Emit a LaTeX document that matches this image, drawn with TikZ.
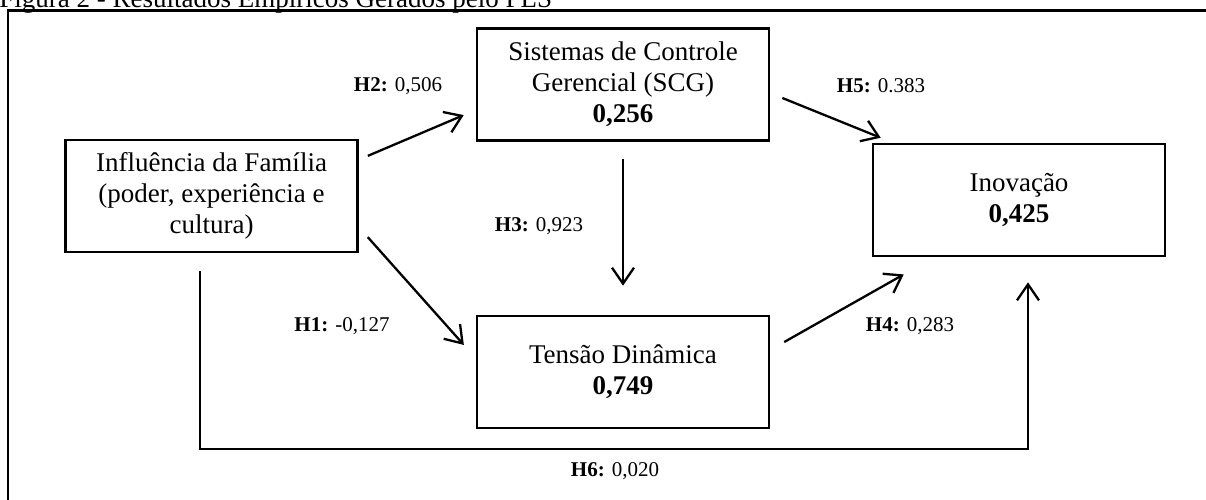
\documentclass[tikz,border=0pt]{standalone}
\usepackage{fontspec}
\setmainfont{Liberation Serif}
\usetikzlibrary{arrows.meta}

\begin{document}
\begin{tikzpicture}[
		x=0.5pt, y=0.5pt,
		caixa/.style={draw, line width=1.3pt, minimum width=146pt, minimum height=56pt, inner sep=0pt, align=center, font=\fontsize{13.5}{15.5}\selectfont},
		seta/.style={line width=1.15pt, -{Straight Barb[length=8pt, width=11pt]}},
		rotulo/.style={font=\fontsize{10.5}{12}\selectfont, inner sep=0pt},
		moldura/.style={line width=1.1pt}
		]
		\useasboundingbox (0,0) rectangle (1206,-499);
		
		% 标题和外框
		\node[anchor=base west, inner sep=0pt, font=\fontsize{13.5}{16.5}\selectfont] (titulo) at (-1,-7) {Figura 2 - Resultados Empíricos Gerados pelo PLS};
		\draw[moldura] (8,-10.5) rectangle (1215,-510);
		
		% 方框坐标
		\coordinate (F) at (211.5,-196);
		\coordinate (S) at (623,-84.5);
		\coordinate (I) at (1019,-200);
		\coordinate (T) at (623,-372);
		
		% 方框
		\node[caixa] (fam) at (F) {Influência da Família\\(poder, experiência e\\cultura)};
		\node[caixa] (scg) at (S) {Sistemas de Controle\\Gerencial (SCG)\\\textbf{0,256}};
		\node[caixa] (ino) at (I) {Inovação\\\textbf{0,425}};
		\node[caixa] (ten) at (T) {Tensão Dinâmica\\\textbf{0,749}};
		
		% 箭头
		\draw[seta, shorten <=4.9pt, shorten >=6.5pt] ([yshift=18.15pt]fam.east) -- ([yshift=-12.75pt]scg.west);
		\draw[seta, shorten <=6.7pt, shorten >=8.9pt] ([yshift=-15.55pt]fam.east) -- ([yshift=6.9pt]ten.west);
		\draw[seta, shorten <=8.5pt, shorten >=14.5pt] (scg.south) -- (ten.north);
		\draw[seta, shorten <=6.5pt, shorten >=6.6pt] ([yshift=-4.3pt]scg.east) -- ([xshift=10.6pt]ino.north west);
		\draw[seta, shorten <=8pt, shorten >=17.4pt] ([yshift=11.05pt]ten.east) -- ([xshift=31.15pt]ino.south west);
		\draw[seta, shorten <=9pt, shorten >=12.5pt] ([xshift=-5.75pt]fam.south) -- ++(0,-196) -| ([xshift=4.5pt]ino.south);
		
		% 系数标注
		\node[rotulo] (h2) at (398,-86) {\textbf{H2:} 0,506};
		\node[rotulo] (h5) at (881,-86) {\textbf{H5:} 0.383};
		\node[rotulo] (h3) at (539,-226) {\textbf{H3:} 0,923};
		\node[rotulo] (h1) at (342,-326) {\textbf{H1:} -0,127};
		\node[rotulo] (h4) at (910,-326) {\textbf{H4:} 0,283};
		\node[rotulo] (h6) at (615,-471) {\textbf{H6:} 0,020};
		
	\end{tikzpicture}
\end{document}
